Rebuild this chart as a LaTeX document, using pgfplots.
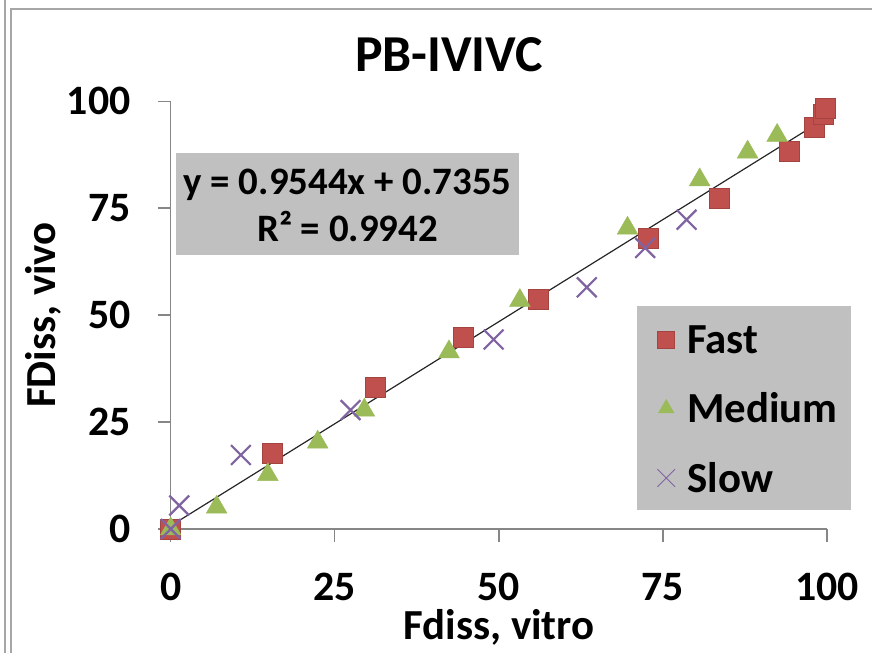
\documentclass[border=0pt]{standalone}
\usepackage{fontspec}
\setmainfont{Carlito}
\usepackage{pgfplots}
\pgfplotsset{compat=1.18}

\definecolor{fastred}{HTML}{C0504D}
\definecolor{medgreen}{HTML}{9BBB59}
\definecolor{slowpurple}{HTML}{8064A2}
\definecolor{boxgray}{HTML}{C0C0C0}
\definecolor{axisgray}{HTML}{868686}
\definecolor{framegray}{HTML}{A6A6A6}

\begin{document}
\begin{tikzpicture}[x=1bp,y=1bp]
\path[use as bounding box] (0,0) rectangle (872,653);
% chart-area frame
\draw[framegray, line width=2bp] (5,0) -- (5,653);
\draw[framegray, line width=2bp] (11,0) -- (11,643.5) -- (872,643.5);

\begin{axis}[
  at={(170.7bp,124bp)}, anchor=south west,
  scale only axis, width=656.3bp, height=427.8bp,
  xmin=0, xmax=100, ymin=0, ymax=100,
  axis x line=bottom, axis y line=left,
  axis line style={axisgray, line width=1.3bp, -},
  xtick={0,25,50,75,100}, ytick={0,25,50,75,100},
  tick align=outside, major tick length=13bp,
  tick style={axisgray, line width=1.3bp},
  /pgf/number format/assume math mode=true,
  ticklabel style={font=\fontsize{42}{48}\selectfont\bfseries},
  xticklabel style={anchor=base, inner sep=0pt, yshift=-59bp},
  yticklabel style={anchor=east, inner sep=0pt, xshift=-27bp},
  title={PB-IVIVC},
  title style={font=\fontsize{52}{60}\selectfont\bfseries, at={(axis description cs:0.424,1)}, anchor=base, yshift=24bp, inner sep=0pt},
  xlabel={Fdiss, vitro},
  ylabel={FDiss, vivo},
  label style={font=\fontsize{43}{50}\selectfont\bfseries, inner sep=0pt},
  xlabel style={at={(axis description cs:0.5,0)}, anchor=base, yshift=-111bp},
  ylabel style={at={(axis description cs:-0.1748,0.5)}, anchor=base},
  clip=false,
  legend style={at={(axis cs:73.95,48.1)}, anchor=north west, draw=none, fill=none,
    inner sep=0pt, row sep=34bp,
    font=\fontsize{43}{50}\selectfont\bfseries},
  legend cell align=left,
  legend image code/.code={%
    \draw[mark repeat=2, mark phase=2] plot coordinates {(0bp,0bp) (0bp,0bp) (0bp,0bp)};
    \path[draw=none, fill=none] (-10bp,-5bp) -- (19bp,5bp);},
]
% shaded boxes behind the equation and the legend
\fill[boxgray] (axis cs:0.81,87.96) rectangle (axis cs:53.07,64.05);
\fill[boxgray] (axis cs:71.05,52.13) rectangle (axis cs:103.66,4.44);

\addplot[only marks, mark=square*, mark size=10bp, color=fastred,
  mark options={fill=fastred, draw=fastred!85!black, line width=0.6bp},
  legend image post style={mark size=8.5bp}]
  coordinates {
  (0,0) (15.5,17.7) (31.2,33.1) (44.6,44.8) (56.0,53.8) (72.7,67.9)
  (83.6,77.3) (94.3,88.2) (98.1,93.9) (99.4,96.9) (99.8,98.3)};
\addlegendentry{Fast}

\addplot[only marks, mark=triangle*, mark size=12bp, color=medgreen,
  mark options={fill=medgreen, draw=medgreen, line width=0.4bp},
  legend image post style={mark size=9bp}]
  coordinates {
  (0,0) (7.0,5.1) (14.8,12.7) (22.4,20.3) (29.5,27.8) (42.4,41.4)
  (53.2,53.4) (69.6,70.3) (80.6,81.6) (87.9,88.1) (92.4,92.0)};
\addlegendentry{Medium}

\addplot[only marks, mark=x, mark size=14bp, color=slowpurple,
  mark options={line width=2.2bp},
  legend image post style={mark size=12.5bp, mark options={line width=1bp}}]
  coordinates {
  (0,0) (1.3,5.5) (10.7,17.3) (27.4,27.8) (49.2,44.3) (63.4,56.5)
  (72.3,65.7) (78.6,72.3)};
\addlegendentry{Slow}

% linear trend line y = 0.9544x + 0.7355
\addplot[forget plot, black!85, line width=1.2bp] coordinates {(0,0.7355) (99.8,96.0)};

\node[anchor=base, font=\fontsize{39}{45}\selectfont\bfseries, inner sep=0pt]
  at (axis cs:26.94,78.3) {y = 0.9544x + 0.7355};
\node[anchor=base, font=\fontsize{39}{45}\selectfont\bfseries, inner sep=0pt]
  at (axis cs:26.94,67.3) {R² = 0.9942};
\end{axis}
\end{tikzpicture}
\end{document}
